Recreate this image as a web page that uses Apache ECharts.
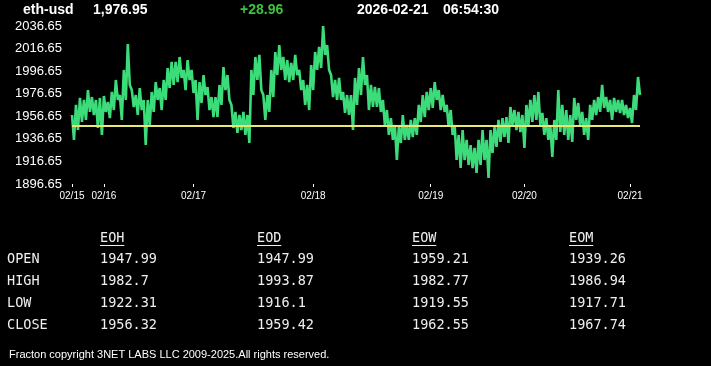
<!DOCTYPE html>
<html>
<head>
<meta charset="utf-8">
<script src="https://cdn.jsdelivr.net/npm/echarts@6/dist/echarts.min.js"></script>
<style>
html,body{margin:0;padding:0;background:#000;}
#chart{width:711px;height:366px;}
</style>
</head>
<body>
<div id="chart"></div>
<script>
// ---- data ----
const symbolName = 'eth-usd';
const lastPrice = '1,976.95';
const change = '+28.96';
const dateText = '2026-02-21';
const timeText = '06:54:30';
const openLevel = 1947.99;

const yTicks = [1896.65, 1916.65, 1936.65, 1956.65, 1976.65, 1996.65, 2016.65, 2036.65];
const dayLabels = ['02/15', '02/16', '02/17', '02/18', '02/19', '02/20', '02/21'];
const dayStartIndex = [0, 16, 61, 121, 180, 227, 280];

// per-bucket high / low envelope of the price trace
const bucketHigh = [
  1957.8,1966.7,1972.9,1971.1,1979.9,1973.7,1971.1,1972.9,1974.6,1969.3,
  1978.2,1988.8,1975.5,1997.7,2020.7,1979.9,1975.5,1981.7,1971.1,1971.1,
  1978.2,1987.0,1981.7,1988.8,1999.4,2004.8,2004.8,2009.2,1997.7,2006.5,
  1997.7,1988.8,1987.0,1993.2,1982.6,1973.7,1973.7,1984.4,2000.3,1993.2,
  1966.7,1960.5,1957.8,1960.5,1957.8,1997.7,2009.2,2011.0,1975.5,1975.5,
  1997.7,2013.6,2019.8,2009.2,2006.5,2003.9,2011.0,1997.7,1988.8,1984.4,
  2002.1,2013.6,2018.1,2036.6,2019.8,1993.2,1988.8,1990.6,1978.2,1975.5,
  1975.5,1990.6,1999.4,2009.2,1993.2,1984.4,1982.6,1981.7,1971.1,1962.2,
  1955.1,1948.9,1947.2,1957.8,1948.9,1953.4,1955.1,1966.7,1975.5,1978.2,
  1981.7,1987.0,1979.9,1975.5,1966.7,1962.2,1948.9,1940.1,1944.5,1935.7,
  1931.2,1928.6,1935.7,1944.5,1935.7,1944.5,1947.2,1953.4,1955.1,1956.0,
  1964.9,1962.2,1960.5,1957.8,1966.7,1971.1,1975.5,1978.2,1959.6,1955.1,
  1948.9,1953.4,1979.9,1966.7,1962.2,1957.8,1972.9,1968.4,1960.5,1955.1,
  1966.7,1971.1,1973.7,1984.4,1973.7,1971.1,1972.9,1971.1,1971.1,1966.7,
  1964.0,1975.5,1991.5
];
const bucketLow = [
  1935.7,1944.5,1951.6,1953.4,1960.5,1957.8,1946.3,1940.1,1960.5,1955.1,
  1962.2,1971.1,1953.4,1971.1,1984.4,1964.9,1957.8,1962.2,1931.2,1948.9,
  1960.5,1971.1,1962.2,1971.1,1981.7,1984.4,1987.0,1990.6,1979.9,1988.8,
  1977.3,1953.4,1968.4,1975.5,1962.2,1956.0,1956.0,1966.7,1979.9,1971.1,
  1946.3,1941.9,1944.5,1940.1,1933.0,1975.5,1988.8,1979.9,1953.4,1960.5,
  1973.7,1993.2,1997.7,1988.8,1987.0,1988.8,1993.2,1979.9,1966.7,1962.2,
  1979.9,1997.7,1999.4,2011.0,1997.7,1973.7,1971.1,1971.1,1959.6,1957.8,
  1944.5,1966.7,1975.5,1984.4,1962.2,1964.9,1964.9,1960.5,1948.9,1940.1,
  1935.7,1917.9,1933.0,1935.7,1935.7,1938.3,1940.1,1951.6,1956.0,1962.2,
  1964.0,1971.1,1962.2,1960.5,1947.2,1940.1,1917.9,1910.8,1917.9,1913.5,
  1910.8,1906.4,1913.5,1917.9,1902.0,1924.1,1929.5,1933.9,1938.3,1933.0,
  1948.9,1944.5,1942.7,1928.6,1948.9,1951.6,1953.4,1948.9,1940.1,1935.7,
  1920.6,1935.7,1942.7,1940.1,1935.7,1933.9,1953.4,1948.9,1940.1,1935.7,
  1953.4,1957.8,1960.5,1964.0,1960.5,1953.4,1960.5,1959.6,1957.8,1955.1,
  1950.7,1962.2,1975.5
];

// statistics table
const tableCols = ['EOH', 'EOD', 'EOW', 'EOM'];
const tableRows = ['OPEN', 'HIGH', 'LOW', 'CLOSE'];
const openVals  = ['1947.99', '1947.99', '1959.21', '1939.26'];
const highVals  = ['1982.7', '1993.87', '1982.77', '1986.94'];
const lowVals   = ['1922.31', '1916.1', '1919.55', '1917.71'];
const closeVals = ['1956.32', '1959.42', '1962.55', '1967.74'];
const copyright = 'Fracton copyright 3NET LABS LLC 2009-2025.All rights reserved.';

// ---- build series (trace alternates between bucket high and low) ----
const priceData = [];
for (let i = 0; i < bucketHigh.length; i++) {
  priceData.push(bucketHigh[i]);
  priceData.push(bucketLow[i]);
}
const categories = priceData.map((_, i) => String(i));
const isDayStart = (idx) => dayStartIndex.indexOf(idx) >= 0;

const white = '#ffffff';
const green = '#3ddc7a';
const yellow = '#e8e872';
const mono = '"DejaVu Sans Mono", "Liberation Mono", monospace';
const sans = '"Liberation Sans", Arial, sans-serif';

const graphics = [];
function txt(x, y, text, opts) {
  graphics.push({
    type: 'text', x: x, y: y, silent: true,
    style: Object.assign({
      text: text, fill: white, font: '13px ' + sans,
      textAlign: 'left', textVerticalAlign: 'middle'
    }, opts || {})
  });
}
// header
txt(23, 10, symbolName, {font: 'bold 14px ' + sans});
txt(93, 10, lastPrice, {font: 'bold 14px ' + sans});
txt(240, 10, change, {font: 'bold 14px ' + sans, fill: '#3fc23f'});
txt(357, 10, dateText, {font: 'bold 14px ' + sans});
txt(443, 10, timeText, {font: 'bold 14px ' + sans});

// table
const colX = [100, 257, 412, 569];
const rowY = [259.5, 281.5, 303.5, 325];
const rowVals = [openVals, highVals, lowVals, closeVals];
const tblFont = '13.5px ' + mono;
tableCols.forEach((c, i) => {
  txt(colX[i], 238, c, {font: tblFont, fill: '#f0f0f0'});
  graphics.push({
    type: 'line', silent: true,
    shape: {x1: colX[i], y1: 245.5, x2: colX[i] + c.length * 8.1, y2: 245.5},
    style: {stroke: '#f0f0f0', lineWidth: 1}
  });
});
tableRows.forEach((r, j) => {
  txt(7, rowY[j], r, {font: tblFont, fill: '#f0f0f0'});
  rowVals[j].forEach((v, i) => txt(colX[i], rowY[j], v, {font: tblFont, fill: '#f0f0f0'}));
});
txt(9, 355, copyright, {font: '11px ' + sans});

const chart = echarts.init(document.getElementById('chart'), null, {renderer: 'canvas'});
chart.setOption({
  backgroundColor: '#000000',
  animation: false,
  grid: {left: 72, right: 71, top: 26, bottom: 182, containLabel: false},
  xAxis: {
    type: 'category',
    data: categories,
    boundaryGap: false,
    axisLine: {show: false},
    axisTick: {show: true, length: 3, interval: (idx) => isDayStart(idx), lineStyle: {color: white, width: 1}},
    axisLabel: {
      interval: (idx) => isDayStart(idx),
      formatter: (val, idx) => {
        const k = dayStartIndex.indexOf(Number(val));
        return k >= 0 ? dayLabels[k] : '';
      },
      color: white, fontSize: 10, fontFamily: sans, margin: 7
    },
    splitLine: {show: false}
  },
  yAxis: {
    type: 'value',
    min: yTicks[0],
    max: yTicks[yTicks.length - 1],
    interval: 20,
    axisLine: {show: false},
    axisTick: {show: false},
    splitLine: {show: false},
    axisLabel: {
      color: white, fontSize: 13, fontFamily: sans, margin: 10,
      formatter: (v) => {
        let best = yTicks[0];
        yTicks.forEach(t => { if (Math.abs(t - v) < Math.abs(best - v)) best = t; });
        return best.toFixed(2);
      }
    }
  },
  series: [{
    type: 'line',
    data: priceData,
    showSymbol: false,
    symbol: 'none',
    lineStyle: {color: green, width: 2.6, join: 'bevel'},
    silent: true,
    markLine: {
      silent: true,
      symbol: ['none', 'none'],
      label: {show: false},
      lineStyle: {color: yellow, width: 2, type: 'solid'},
      data: [{yAxis: openLevel}]
    },
    z: 2
  }],
  graphic: graphics
});
</script>
</body>
</html>
